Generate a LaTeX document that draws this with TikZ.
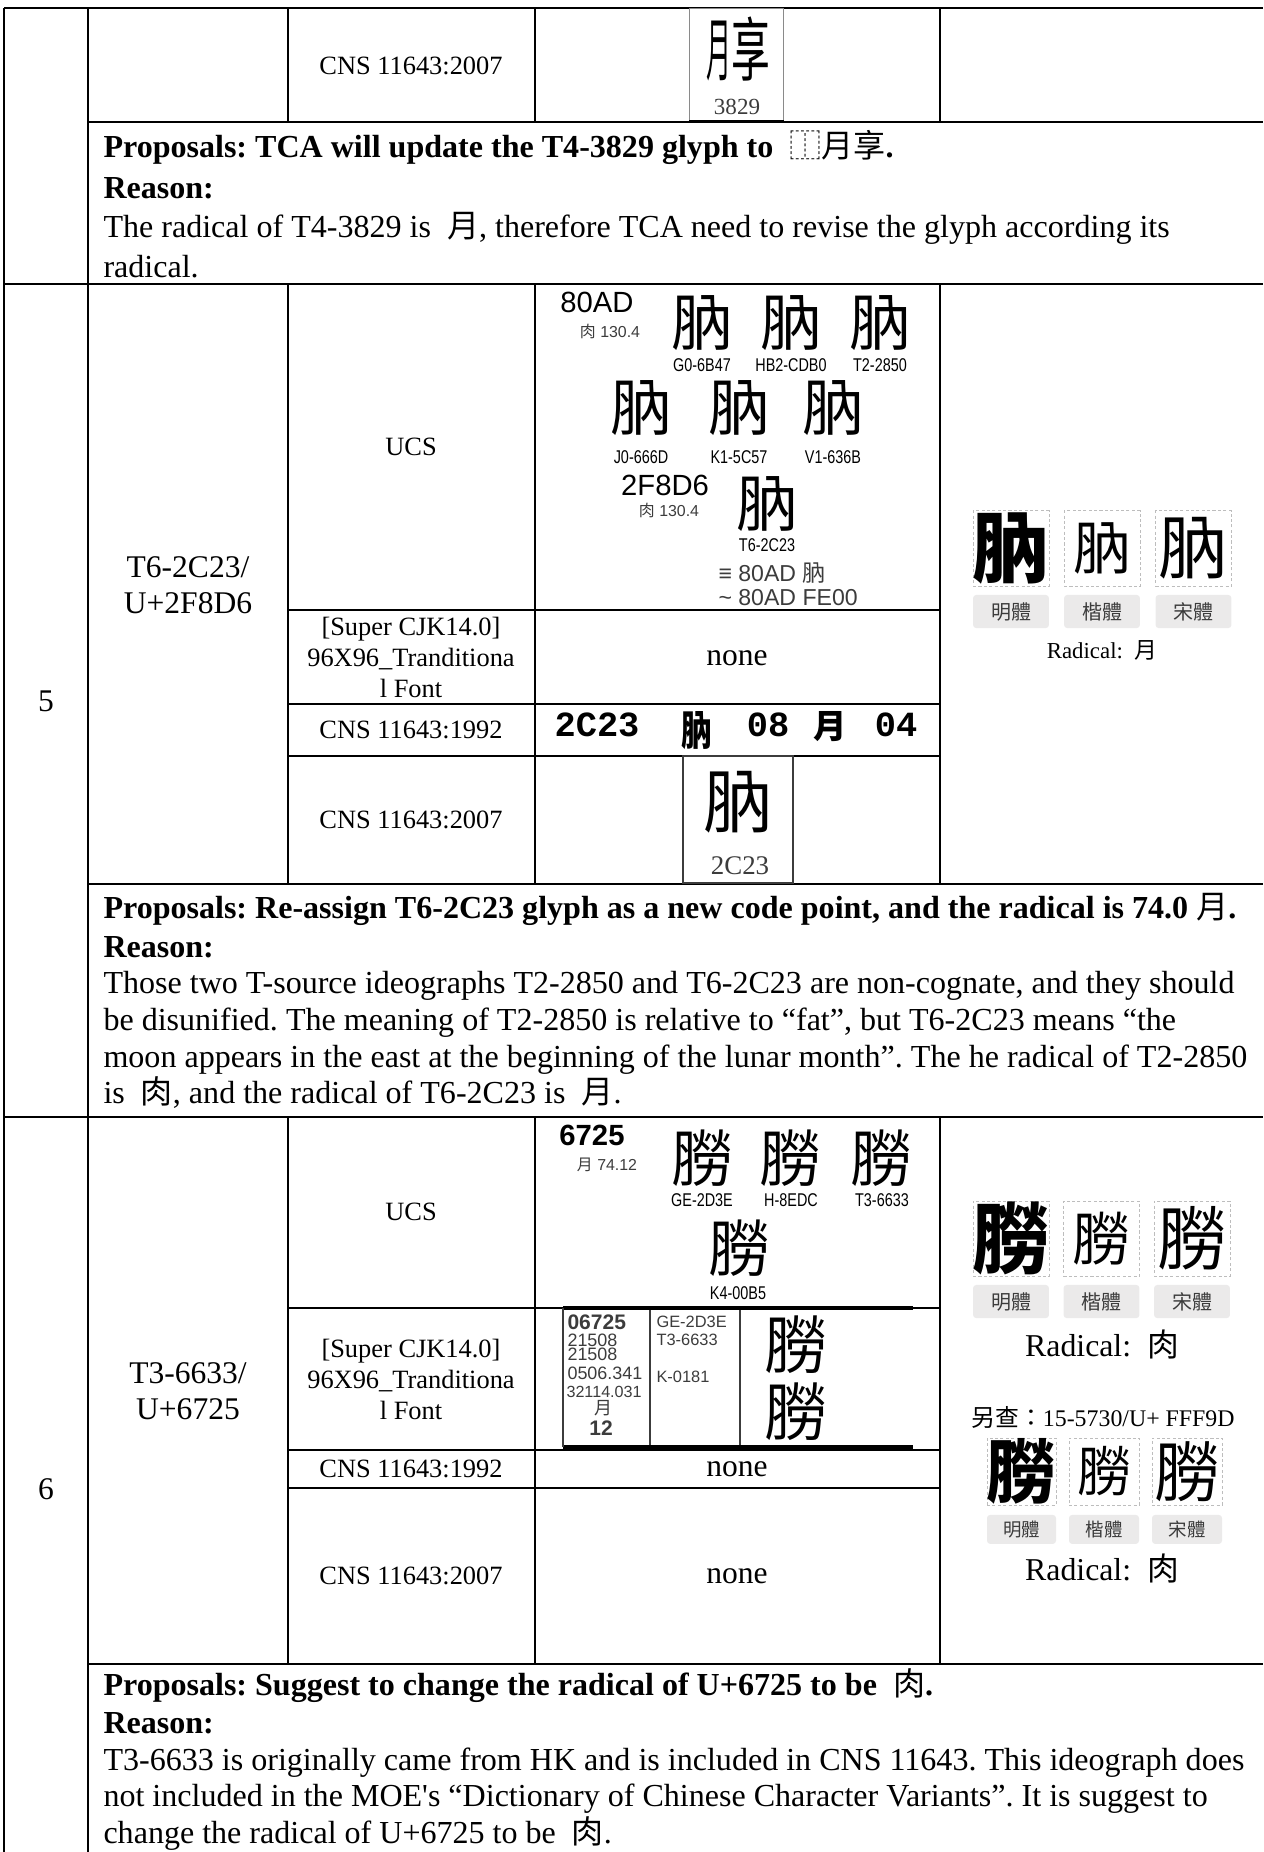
\documentclass[tikz,border=0pt]{standalone}
\usepackage{fontspec}
\usepackage{graphicx}
\setmainfont{Liberation Serif}
\newfontfamily\cjk{Noto Sans CJK TC}
\newfontfamily\arial{Liberation Sans}
\newfontfamily\monob{Liberation Mono}
\usetikzlibrary{positioning}
\frenchspacing

\definecolor{tagfill}{HTML}{EBEAEA}
\definecolor{dashgray}{HTML}{BDBDBD}
\definecolor{inkgray}{HTML}{3C3C3C}
\definecolor{framegray}{HTML}{8A8A8A}

\newcommand{\zh}[1]{{\cjk\mdseries #1}}
\newcommand{\fsz}[1]{\fontsize{#1}{#1}\selectfont}

\tikzset{
  rowline/.style={line width=0.9pt},
  cellline/.style={line width=0.55pt},
  celltext/.style={inner sep=0pt, align=center, font=\fontsize{10.3}{12.1}\selectfont},
  headtext/.style={inner sep=0pt, align=center, font=\fontsize{12.3}{13.9}\selectfont},
  proptext/.style={inner sep=0pt, anchor=base west, font=\fontsize{12.5}{14}\selectfont},
  ucsglyph/.style={inner sep=0pt, font=\cjk\fsz{24}},
  srclabel/.style={inner sep=0pt, font=\arial\fsz{7.2}},
  ucscode/.style={inner sep=0pt, font=\arial\fsz{11.4}},
  ucsrad/.style={inner sep=0pt, text=inkgray, font=\arial\fsz{6.2}},
  minitext/.style={inner sep=0pt, anchor=west, text=inkgray, font=\arial\fsz{7}},
  glyphbox/.style={draw=dashgray, dash pattern=on 1.2pt off 0.9pt, line width=0.35pt, inner sep=0pt, minimum width=29.6pt, minimum height=29.3pt},
  styletag/.style={fill=tagfill, rounded corners=1.2pt, inner sep=0pt, minimum width=29.6pt, minimum height=12.9pt, text=inkgray, font=\cjk\fsz{7.8}},
  bitmap/.style={inner sep=0pt, font=\monob\bfseries\fsz{13.8}}
}

\begin{document}
\begin{tikzpicture}[x=0.39pt, y=-0.39pt]
  \useasboundingbox (0,0) rectangle (1263,1852);

  \draw[rowline] (4,8) -- (1263,8);
  \draw[rowline] (88,122) -- (1263,122);
  \draw[rowline] (4,284) -- (1263,284);
  \draw[rowline] (88,884) -- (1263,884);
  \draw[rowline] (4,1117) -- (1263,1117);
  \draw[rowline] (88,1664) -- (1263,1664);
  \draw[cellline] (4,8) -- (4,1852);
  \draw[cellline] (88,8) -- (88,1852);
  \draw[cellline] (288,8) -- (288,122) (535,8) -- (535,122) (940,8) -- (940,122);
  \draw[cellline] (288,284) -- (288,884) (535,284) -- (535,884) (940,284) -- (940,884);
  \draw[cellline] (288,1117) -- (288,1664) (535,1117) -- (535,1664) (940,1117) -- (940,1664);
  \draw[cellline] (288,610) -- (940,610) (288,704) -- (940,704) (288,756) -- (940,756);
  \draw[cellline] (288,1308) -- (940,1308) (288,1450) -- (940,1450) (288,1488) -- (940,1488);

  % row 4 (end)
  \node[celltext] (r1cns) at (411,66) {CNS 11643:2007};
  \node[draw=framegray, line width=0.4pt, inner sep=0pt, minimum width=36.3pt, minimum height=44pt] (r1box) at (736.5,64.5) {};
  \draw[line width=1.1pt] (r1box.south west) -- (r1box.south east);
  \node[inner sep=0pt, font=\cjk\fsz{27}] (r1glyph) at (738,49) {\scalebox{0.36}[1]{月}\scalebox{0.56}[1]{享}};
  \node[inner sep=0pt, text=inkgray, font=\fsz{9}] (r1num) at (737,107) {3829};

  \node[proptext] (r1l1) at (103,157) {\bfseries Proposals: TCA will update the T4-3829 glyph to \ \zh{⿰月享}.};
  \node[proptext] (r1l2) at (103,198) {\bfseries Reason:};
  \node[proptext] (r1l3) at (103,237) {The radical of T4-3829 is \ \zh{月}, therefore TCA need to revise the glyph according its};
  \node[proptext] (r1l4) at (103,277) {radical.};

  % row 5
  \node[headtext] (r5no) at (46,701) {5};
  \node[headtext] (r5id) at (188,585) {T6-2C23/\\U+2F8D6};
  \node[celltext] (r5ucs) at (411,447) {UCS};
  \node[celltext] (r5scjk) at (411,657) {[Super CJK14.0]\\96X96\_Tranditiona\\l Font};
  \node[celltext] (r5c92) at (411,730) {CNS 11643:1992};
  \node[celltext] (r5c07) at (411,820) {CNS 11643:2007};

  \node[ucscode] (u5code) at (597,302) {80AD};
  \node[ucsrad] (u5rad) at (610,331) {\zh{肉}\ 130.4};
  \node[ucsglyph] (u5g1) at (702,323) {肭};
  \node[ucsglyph] (u5g2) at (791,323) {肭};
  \node[ucsglyph] (u5g3) at (880,323) {肭};
  \node[srclabel] (u5l1) at (702,365) {\scalebox{0.78}[1]{G0-6B47}};
  \node[srclabel] (u5l2) at (791,365) {\scalebox{0.78}[1]{HB2-CDB0}};
  \node[srclabel] (u5l3) at (880,365) {\scalebox{0.78}[1]{T2-2850}};
  \node[ucsglyph] (u5g4) at (641,408) {肭};
  \node[ucsglyph] (u5g5) at (739,408) {肭};
  \node[ucsglyph] (u5g6) at (833,408) {肭};
  \node[srclabel] (u5l4) at (641,457) {\scalebox{0.78}[1]{J0-666D}};
  \node[srclabel] (u5l5) at (739,457) {\scalebox{0.78}[1]{K1-5C57}};
  \node[srclabel] (u5l6) at (833,457) {\scalebox{0.78}[1]{V1-636B}};
  \node[ucscode] (u5cp) at (665,485) {2F8D6};
  \node[ucsrad] (u5rad2) at (669,510) {\zh{肉}\ 130.4};
  \node[ucsglyph] (u5g7) at (767,504) {肭};
  \node[srclabel] (u5l7) at (767,545) {\scalebox{0.78}[1]{T6-2C23}};
  \node[inner sep=0pt, anchor=west, text=inkgray, font=\arial\fsz{9}] (u5eq) at (718,573) {≡ 80AD \zh{肭}};
  \node[inner sep=0pt, anchor=west, text=inkgray, font=\arial\fsz{9}] (u5var) at (718,598) {\textasciitilde{} 80AD FE00};

  \node[headtext] (r5none) at (737,658) {none};

  \node[bitmap] (r5b1) at (597,725) {2C23};
  \node[inner sep=0pt, font=\cjk\bfseries\fsz{16}] (r5b2) at (697,731) {\scalebox{0.75}[1]{肭}};
  \node[bitmap] (r5b3) at (768,725) {08};
  \node[inner sep=0pt, font=\cjk\bfseries\fsz{13}] (r5b4) at (830,727) {月};
  \node[bitmap] (r5b5) at (896,725) {04};

  \node[draw=inkgray, line width=0.5pt, inner sep=0pt, minimum width=42.9pt, minimum height=49.5pt] (r5box) at (738,819.5) {};
  \node[inner sep=0pt, font=\cjk\fsz{27}] (r5glyph) at (738,802) {肭};
  \node[inner sep=0pt, text=inkgray, font=\fsz{10.5}] (r5num) at (740,866) {2C23};

  \node[glyphbox] (r5k1) at (1011,548.5) {};
  \node[glyphbox] (r5k2) at (1102,548.5) {};
  \node[glyphbox] (r5k3) at (1193.5,548.5) {};
  \node[inner sep=0pt, font=\cjk\bfseries\fsz{30}] at (r5k1) {肭};
  \node[inner sep=0pt, font=\cjk\fsz{22.5}] at (r5k2) {肭};
  \node[inner sep=0pt, font=\cjk\fsz{27}] at (r5k3) {肭};
  \node[styletag] (r5t1) [below=3.1pt of r5k1] {明體};
  \node[styletag] (r5t2) [below=3.1pt of r5k2] {楷體};
  \node[styletag] (r5t3) [below=3.1pt of r5k3] {宋體};
  \node[inner sep=0pt, font=\fsz{8.9}] (r5rad) at (1102,650) {Radical:\ \ \zh{月}};

  \node[proptext] (r5l1) at (103,918) {\bfseries Proposals: Re-assign T6-2C23 glyph as a new code point, and the radical is 74.0 \zh{月}.};
  \node[proptext] (r5l2) at (103,957) {\bfseries Reason:};
  \node[proptext] (r5l3) at (103,993) {Those two T-source ideographs T2-2850 and T6-2C23 are non-cognate, and they should};
  \node[proptext] (r5l4) at (103,1030) {be disunified. The meaning of T2-2850 is relative to “fat”, but T6-2C23 means “the};
  \node[proptext] (r5l5) at (103,1067) {moon appears in the east at the beginning of the lunar month”. The he radical of T2-2850};
  \node[proptext] (r5l6) at (103,1103) {is \ \zh{肉}, and the radical of T6-2C23 is \ \zh{月}.};

  % row 6
  \node[headtext] (r6no) at (46,1489) {6};
  \node[headtext] (r6id) at (188,1391) {T3-6633/\\U+6725};
  \node[celltext] (r6ucs) at (411,1212) {UCS};
  \node[celltext] (r6scjk) at (411,1379) {[Super CJK14.0]\\96X96\_Tranditiona\\l Font};
  \node[celltext] (r6c92) at (411,1469) {CNS 11643:1992};
  \node[celltext] (r6c07) at (411,1576) {CNS 11643:2007};

  \node[ucscode, font=\arial\bfseries\fsz{11.4}] (u6code) at (592,1135) {6725};
  \node[ucsrad] (u6rad) at (607,1165) {\zh{月}\ 74.12};
  \node[ucsglyph] (u6g1) at (702,1158) {朥};
  \node[ucsglyph] (u6g2) at (790,1158) {朥};
  \node[ucsglyph] (u6g3) at (881,1158) {朥};
  \node[srclabel] (u6l1) at (702,1200) {\scalebox{0.78}[1]{GE-2D3E}};
  \node[srclabel] (u6l2) at (791,1200) {\scalebox{0.78}[1]{H-8EDC}};
  \node[srclabel] (u6l3) at (882,1200) {\scalebox{0.78}[1]{T3-6633}};
  \node[ucsglyph] (u6g4) at (739,1248) {朥};
  \node[srclabel] (u6l4) at (738,1293) {\scalebox{0.78}[1]{K4-00B5}};

  \draw[line width=1.3pt] (563,1308) -- (913,1308);
  \draw[line width=1.3pt] (563,1447) -- (913,1447);
  \draw[line width=0.6pt, inkgray] (563,1308) -- (563,1447) (650,1310) -- (650,1445) (740,1310) -- (740,1445);
  \node[minitext, font=\arial\bfseries\fsz{8.2}] (m6a) at (567,1322) {06725};
  \node[minitext] (m6b) at (567,1340) {21508};
  \node[minitext] (m6c) at (567,1354) {21508};
  \node[minitext] (m6d) at (567,1373) {0506.341};
  \node[minitext, font=\arial\fsz{6.3}] (m6e) at (566,1392) {32114.031};
  \node[inner sep=0pt, text=inkgray, font=\cjk\fsz{7}] (m6f) at (603,1408) {月};
  \node[inner sep=0pt, text=inkgray, font=\arial\bfseries\fsz{8.2}] (m6g) at (601,1428) {12};
  \node[minitext, font=\arial\fsz{6.4}] (m6h) at (656,1322) {GE-2D3E};
  \node[minitext, font=\arial\fsz{6.4}] (m6i) at (656,1340) {T3-6633};
  \node[minitext, font=\arial\fsz{6.4}] (m6j) at (656,1377) {K-0181};
  \node[ucsglyph, font=\cjk\fsz{24.5}] (m6k) at (796,1345) {朥};
  \node[ucsglyph, font=\cjk\fsz{24.5}] (m6l) at (796,1412) {朥};

  \node[headtext] (r6none1) at (737,1469) {none};
  \node[headtext] (r6none2) at (737,1576) {none};

  \node[glyphbox] (r6k1) at (1011,1238.5) {};
  \node[glyphbox] (r6k2) at (1101.5,1238.5) {};
  \node[glyphbox] (r6k3) at (1192,1238.5) {};
  \node[inner sep=0pt, font=\cjk\bfseries\fsz{30}] at (r6k1) {朥};
  \node[inner sep=0pt, font=\cjk\fsz{22.5}] at (r6k2) {朥};
  \node[inner sep=0pt, font=\cjk\fsz{27}] at (r6k3) {朥};
  \node[styletag] (r6t1) [below=3.1pt of r6k1] {明體};
  \node[styletag] (r6t2) [below=3.1pt of r6k2] {楷體};
  \node[styletag] (r6t3) [below=3.1pt of r6k3] {宋體};
  \node[inner sep=0pt, font=\fsz{12.4}] (r6rad) at (1102,1344) {Radical:\ \ \zh{肉}};
  \node[inner sep=0pt, font=\fsz{9.3}] (r6alt) at (1103,1417) {\zh{另查：}15-5730/U+ FFF9D};

  \node[glyphbox, minimum width=26.9pt, minimum height=26.1pt] (r6v1) at (1021.5,1471.5) {};
  \node[glyphbox, minimum width=27.3pt, minimum height=26.1pt] (r6v2) at (1104,1471.5) {};
  \node[glyphbox, minimum width=27.3pt, minimum height=26.1pt] (r6v3) at (1187,1471.5) {};
  \node[inner sep=0pt, font=\cjk\bfseries\fsz{27}] at (r6v1) {朥};
  \node[inner sep=0pt, font=\cjk\fsz{21}] at (r6v2) {朥};
  \node[inner sep=0pt, font=\cjk\fsz{25.5}] at (r6v3) {朥};
  \node[styletag, minimum width=26.9pt, minimum height=11.3pt, font=\cjk\fsz{7.2}] (r6s1) [below=3.5pt of r6v1] {明體};
  \node[styletag, minimum width=27.3pt, minimum height=11.3pt, font=\cjk\fsz{7.2}] (r6s2) [below=3.5pt of r6v2] {楷體};
  \node[styletag, minimum width=27.3pt, minimum height=11.3pt, font=\cjk\fsz{7.2}] (r6s3) [below=3.5pt of r6v3] {宋體};
  \node[inner sep=0pt, font=\fsz{12.4}] (r6rad2) at (1102,1568) {Radical:\ \ \zh{肉}};

  \node[proptext] (r6l1) at (103,1695) {\bfseries Proposals: Suggest to change the radical of U+6725 to be \ \zh{肉}.};
  \node[proptext] (r6l2) at (103,1733) {\bfseries Reason:};
  \node[proptext] (r6l3) at (103,1770) {T3-6633 is originally came from HK and is included in CNS 11643. This ideograph does};
  \node[proptext] (r6l4) at (103,1806) {not included in the MOE\textquotesingle s “Dictionary of Chinese Character Variants”. It is suggest to};
  \node[proptext] (r6l5) at (103,1843) {change the radical of U+6725 to be \ \zh{肉}.};

\end{tikzpicture}
\end{document}
